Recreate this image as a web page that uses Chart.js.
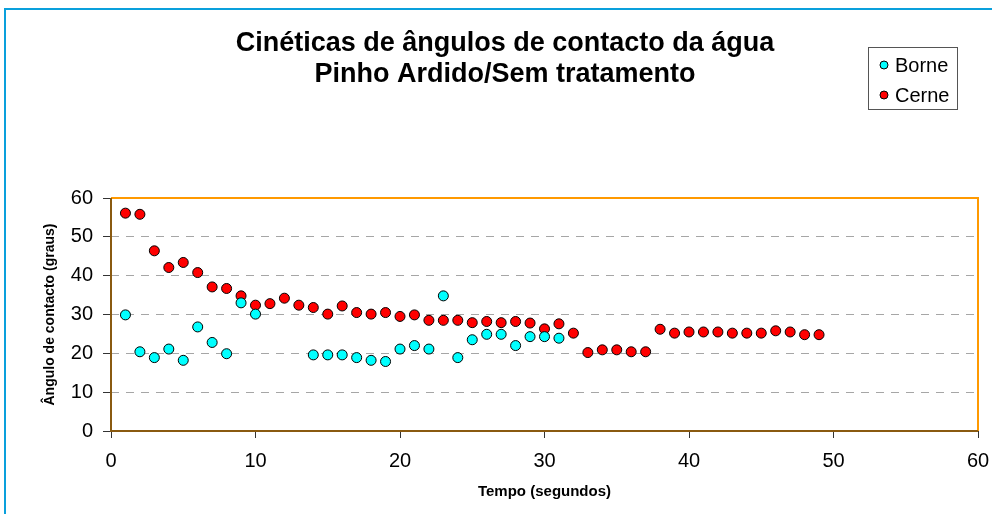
<!DOCTYPE html>
<html>
<head>
<meta charset="utf-8">
<script src="https://cdn.jsdelivr.net/npm/chart.js@4"></script>
<style>
  html, body { margin: 0; padding: 0; background: #fff; }
  #wrap { width: 992px; height: 514px; position: relative; }
</style>
</head>
<body>
<div id="wrap"><canvas id="angulos" width="992" height="514"></canvas></div>
<script>
// Tempos (s) e ângulos de contacto (graus)
const tempoBorne = [1, 2, 3, 4, 5, 6, 7, 8, 9, 10, 14, 15, 16, 17, 18, 19, 20, 21, 22, 23, 24, 25, 26, 27, 28, 29, 30, 31];
const anguloBorne = [29.9, 20.4, 18.9, 21.1, 18.2, 26.8, 22.8, 19.9, 33.0, 30.1, 19.6, 19.6, 19.6, 18.9, 18.2, 17.9, 21.1, 22.0, 21.1, 34.8, 18.9, 23.5, 24.9, 24.9, 22.0, 24.3, 24.3, 23.9];

const tempoCerne = [1, 2, 3, 4, 5, 6, 7, 8, 9, 10, 11, 12, 13, 14, 15, 16, 17, 18, 19, 20, 21, 22, 23, 24, 25, 26, 27, 28, 29, 30, 31, 32, 33, 34, 35, 36, 37, 38, 39, 40, 41, 42, 43, 44, 45, 46, 47, 48, 49];
const anguloCerne = [56.1, 55.8, 46.4, 42.1, 43.4, 40.8, 37.1, 36.7, 34.8, 32.4, 32.8, 34.2, 32.4, 31.8, 30.1, 32.2, 30.5, 30.1, 30.5, 29.5, 29.9, 28.5, 28.5, 28.5, 27.9, 28.2, 27.9, 28.2, 27.8, 26.3, 27.6, 25.2, 20.2, 20.9, 20.9, 20.4, 20.4, 26.2, 25.2, 25.5, 25.5, 25.5, 25.2, 25.2, 25.2, 25.8, 25.5, 24.8, 24.8];

const titulo = ['Cinéticas de ângulos de contacto da água', 'Pinho Ardido/Sem tratamento'];
const xTicks = [0, 10, 20, 30, 40, 50, 60];
const yTicks = [0, 10, 20, 30, 40, 50, 60];

const pontos = (xs, ys) => xs.map((x, i) => ({ x: x, y: ys[i] }));
const FONTE = 'Arial, "Liberation Sans", sans-serif';

// moldura azul, caixa do gráfico, título e legenda
const extras = {
  id: 'extras',
  beforeDraw(chart) {
    const ctx = chart.ctx;
    ctx.save();
    ctx.strokeStyle = '#0aa0dc';
    ctx.lineWidth = 2;
    ctx.beginPath();
    ctx.moveTo(5, 514);
    ctx.lineTo(5, 9);
    ctx.lineTo(992, 9);
    ctx.stroke();
    ctx.restore();
  },
  afterDraw(chart) {
    const ctx = chart.ctx;
    const a = chart.chartArea;
    ctx.save();
    // caixa da área de plotagem
    ctx.lineWidth = 2;
    ctx.strokeStyle = '#ff9900';
    ctx.beginPath();
    ctx.moveTo(a.left, a.top);
    ctx.lineTo(a.right, a.top);
    ctx.lineTo(a.right, a.bottom);
    ctx.stroke();
    ctx.strokeStyle = '#8a5a10';
    ctx.beginPath();
    ctx.moveTo(a.left, a.top);
    ctx.lineTo(a.left, a.bottom);
    ctx.lineTo(a.right, a.bottom);
    ctx.stroke();

    // título
    ctx.fillStyle = '#000';
    ctx.font = 'bold 27px ' + FONTE;
    ctx.textAlign = 'center';
    ctx.textBaseline = 'middle';
    ctx.fillText(titulo[0], 505, 44);
    ctx.fillText(titulo[1], 505, 75);

    // legenda
    ctx.lineWidth = 1;
    ctx.strokeStyle = '#555';
    ctx.fillStyle = '#fff';
    ctx.fillRect(868.5, 47.5, 89, 62);
    ctx.strokeRect(868.5, 47.5, 89, 62);
    ctx.font = '20px ' + FONTE;
    ctx.textAlign = 'left';
    chart.data.datasets.forEach((ds, i) => {
      const y = 65 + i * 30;
      ctx.beginPath();
      ctx.arc(884, y, 4, 0, Math.PI * 2);
      ctx.fillStyle = ds.backgroundColor;
      ctx.fill();
      ctx.strokeStyle = '#000';
      ctx.stroke();
      ctx.fillStyle = '#000';
      ctx.fillText(ds.label, 895, y + 1);
    });
    ctx.restore();
  }
};

new Chart(document.getElementById('angulos'), {
  type: 'scatter',
  data: {
    datasets: [
      {
        label: 'Borne',
        data: pontos(tempoBorne, anguloBorne),
        backgroundColor: '#00ffff',
        borderColor: '#000',
        borderWidth: 1,
        pointRadius: 5,
        pointHoverRadius: 5
      },
      {
        label: 'Cerne',
        data: pontos(tempoCerne, anguloCerne),
        backgroundColor: '#ff0000',
        borderColor: '#000',
        borderWidth: 1,
        pointRadius: 5,
        pointHoverRadius: 5
      }
    ]
  },
  options: {
    responsive: false,
    animation: false,
    layout: { padding: { left: 0, top: 198, right: 14, bottom: 0 } },
    plugins: {
      legend: { display: false },
      title: { display: false },
      tooltip: { enabled: false }
    },
    scales: {
      x: {
        type: 'linear',
        min: 0,
        max: 60,
        afterBuildTicks: s => { s.ticks = xTicks.map(v => ({ value: v })); },
        afterFit: s => { s.height = 83; s.paddingLeft = 0; s.paddingRight = 0; },
        border: { display: false },
        grid: { drawOnChartArea: false, tickLength: 7, tickColor: '#333', tickWidth: 1 },
        ticks: { color: '#000', padding: 11, font: { family: FONTE, size: 20 }, maxRotation: 0 },
        title: {
          display: true,
          text: 'Tempo (segundos)',
          color: '#000',
          font: { family: FONTE, size: 15, weight: 'bold' },
          padding: { top: 0, bottom: 13 }
        }
      },
      y: {
        type: 'linear',
        min: 0,
        max: 60,
        afterBuildTicks: s => { s.ticks = yTicks.map(v => ({ value: v })); },
        afterFit: s => { s.width = 111; },
        border: { display: false, dash: [8, 7] },
        grid: {
          color: c => (c.tick && (c.tick.value === 0 || c.tick.value === 60)) ? 'rgba(0,0,0,0)' : '#a6a6a6',
          lineWidth: 1,
          tickLength: 8,
          tickColor: '#333',
          tickBorderDash: []
        },
        ticks: { color: '#000', padding: 10, font: { family: FONTE, size: 20 } },
        title: {
          display: true,
          text: 'Ângulo de contacto (graus)',
          color: '#000',
          font: { family: FONTE, size: 14, weight: 'bold' },
          padding: { top: 42, bottom: 0 }
        }
      }
    }
  },
  plugins: [extras]
});
</script>
</body>
</html>
